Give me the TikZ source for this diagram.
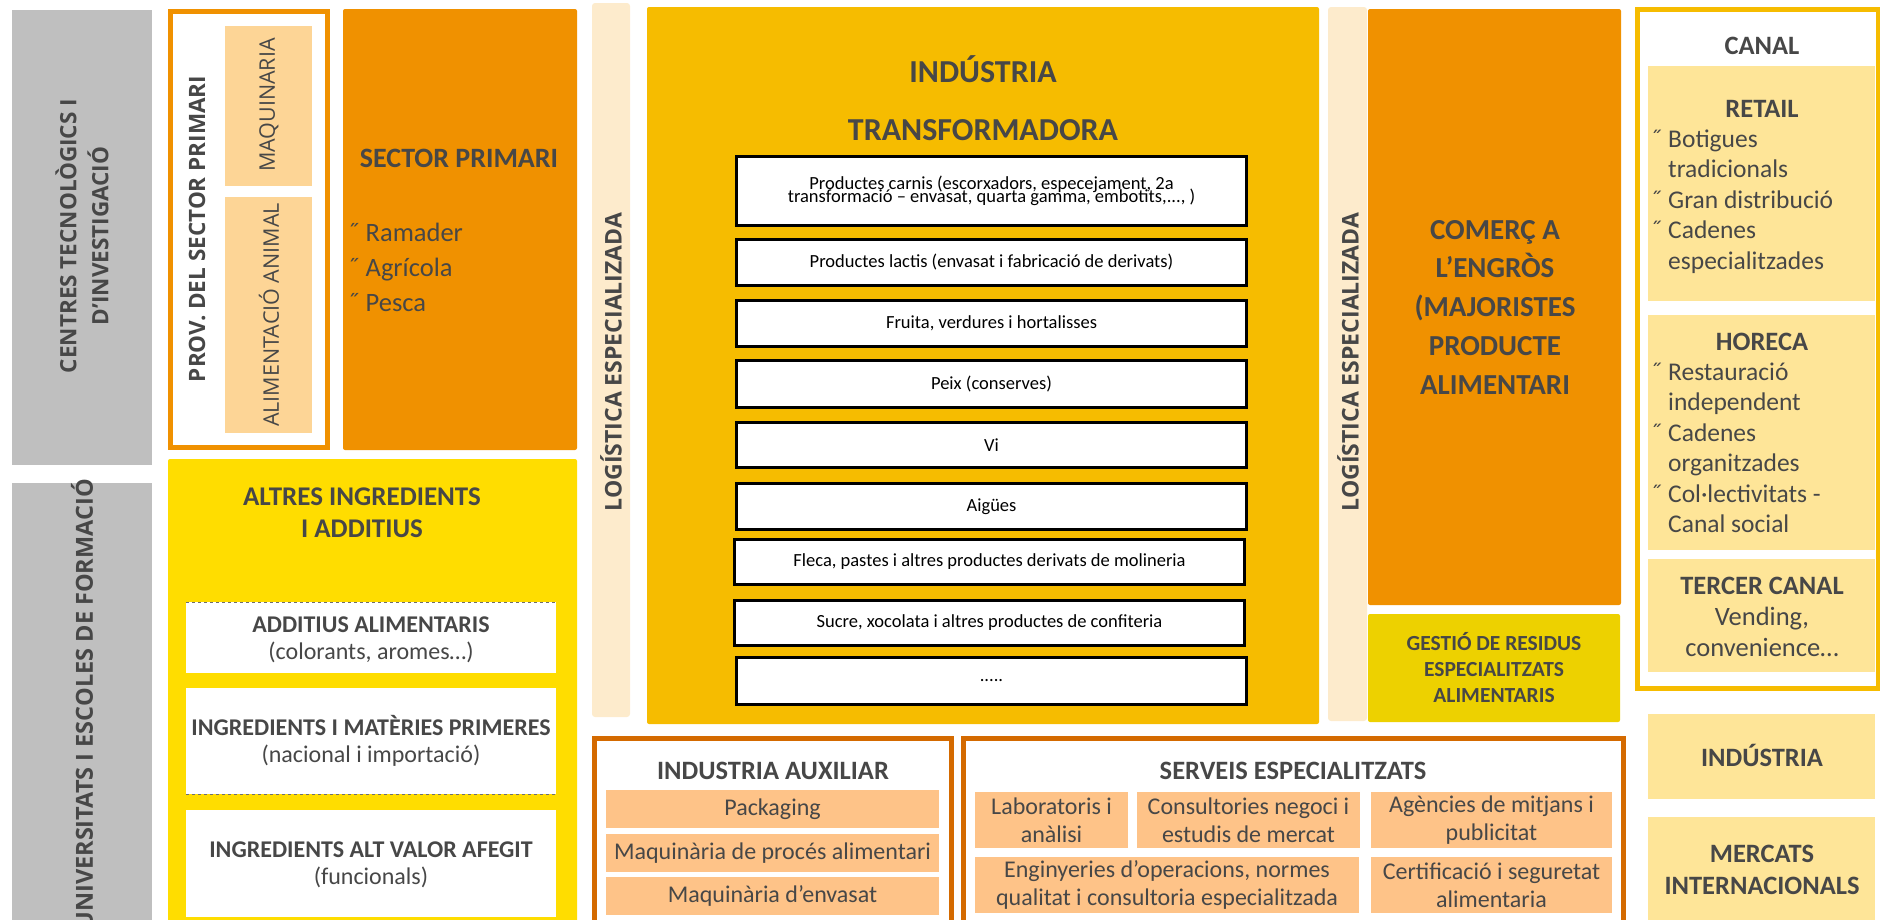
\documentclass[tikz,border=0pt]{standalone}
\usepackage{fontspec}
\usepackage{xcolor}
\setmainfont{Carlito}
\newfontfamily\opensans{Open Sans}

\definecolor{gris}{HTML}{BFBFBF}
\definecolor{grisfosc}{HTML}{6E6E6E}
\definecolor{taronja}{HTML}{F09100}
\definecolor{taronjafosc}{HTML}{D46A00}
\definecolor{preseg}{HTML}{FDD596}
\definecolor{groc}{HTML}{FFDD00}
\definecolor{crema}{HTML}{FDEBCC}
\definecolor{daurat}{HTML}{F6BC00}
\definecolor{llima}{HTML}{EDD100}
\definecolor{palla}{HTML}{FEE598}
\definecolor{albercoc}{HTML}{FEC388}
\definecolor{lletra}{HTML}{474747}

\newcommand{\vinyeta}[1][18pt]{\makebox[#1][l]{˝}}
\newcommand{\ajustat}{\lineskiplimit=-100pt\relax}

\begin{document}
\begin{tikzpicture}[x=1pt, y=-1pt,
    titol/.style={text=lletra, inner sep=0pt, align=center, anchor=base,
        font=\fontsize{26.5}{32}\selectfont\bfseries},
    vertical/.style={rotate=90, text=lletra, inner sep=0pt, align=center,
        font=\opensans\fontsize{22.5}{32}\selectfont\bfseries},
    llista/.style={text=lletra, inner sep=0pt, align=left, anchor=base west,
        font=\fontsize{25.5}{30.5}\selectfont},
    producte/.style={draw=black, line width=3pt, fill=white, inner sep=0pt,
        minimum width=510pt, minimum height=46pt, align=center,
        font=\fontsize{18.5}{13}\selectfont\ajustat},
    servei/.style={fill=albercoc, inner sep=0pt, minimum height=56pt, align=center,
        text=lletra, font=\fontsize{24}{28}\selectfont},
    auxiliar/.style={fill=albercoc, inner sep=0pt, minimum width=333pt,
        minimum height=38pt, text=lletra, font=\fontsize{24}{28}\selectfont}]
\useasboundingbox (0,0) rectangle (1880,919);
\clip (0,0) rectangle (1880,919);

% Columna de centres i universitats
\fill[gris] (12,10) rectangle (152,465);
\fill[gris] (12,483) rectangle (152,930);
\node[vertical] (centres) at (82,236) {CENTRES TECNOLÒGICS I\\D’INVESTIGACIÓ};
\node[vertical, anchor=east, font=\opensans\fontsize{23.5}{32}\selectfont\bfseries] (universitats) at (82,479) {UNIVERSITATS I ESCOLES DE FORMACIÓ};

% Proveidors del sector primari
\filldraw[fill=white, draw=taronja, line width=5pt] (170.5,11.5) rectangle (327.5,447.5);
\fill[preseg] (225,26) rectangle (312,186);
\fill[preseg] (225,197) rectangle (312,433);
\node[vertical] (prov) at (197,229) {PROV. DEL SECTOR PRIMARI};
\node[vertical, font=\opensans\fontsize{21.5}{24}\selectfont] (maquinaria) at (269,105) {MAQUINARIA};
\node[vertical, font=\opensans\fontsize{21.5}{24}\selectfont] (alimentacio) at (269,315) {ALIMENTACIÓ ANIMAL};

% Sector primari
\fill[taronja, rounded corners=2pt] (343,9) rectangle (577,450);
\node[titol, font=\fontsize{28}{32}\selectfont\bfseries] (sectorprimari) at (459,167) {SECTOR PRIMARI};
\node[llista, font=\fontsize{26.5}{35}\selectfont] (primari) at (347,311)
    {\vinyeta[18.5pt]Ramader\\\vinyeta[18.5pt]Agrícola\\\vinyeta[18.5pt]Pesca};

% Altres ingredients i additius
\fill[groc, rounded corners=2pt] (168,459) rectangle (577,930);
\fill[white] (186,602) rectangle (556,673);
\fill[white] (186,688) rectangle (556,794);
\fill[white] (186,810) rectangle (556,917);
\draw[grisfosc, dashed, line width=0.8pt] (186,602) -- (556,602);
\draw[grisfosc, dashed, line width=0.8pt] (186,794) -- (556,794);
\node[titol, font=\fontsize{27}{32}\selectfont\bfseries] (altres) at (362,537) {ALTRES INGREDIENTS\\I ADDITIUS};
\node[titol, font=\fontsize{24}{27}\selectfont\bfseries] (additius) at (371,659)
    {ADDITIUS ALIMENTARIS\\{\mdseries (colorants, aromes…)}};
\node[titol, font=\fontsize{24}{27}\selectfont\bfseries] (materies) at (371,762)
    {INGREDIENTS I MATÈRIES PRIMERES\\{\mdseries (nacional i importació)}};
\node[titol, font=\fontsize{24}{27}\selectfont\bfseries] (valor) at (371,884)
    {INGREDIENTS ALT VALOR AFEGIT\\{\mdseries (funcionals)}};

% Logistica especialitzada
\fill[crema, rounded corners=3pt] (592,3) rectangle (630,717);
\fill[crema, rounded corners=3pt] (1328,7) rectangle (1367,721);
\node[vertical, font=\opensans\fontsize{23}{32}\selectfont\bfseries] (logistica1) at (611,362) {LOGÍSTICA ESPECIALIZADA};
\node[vertical, font=\opensans\fontsize{23}{32}\selectfont\bfseries] (logistica2) at (1348,362) {LOGÍSTICA ESPECIALIZADA};

% Industria transformadora
\fill[daurat, rounded corners=2pt] (647,7) rectangle (1319,724);
\node[titol, font=\fontsize{32}{58}\selectfont\bfseries] (transformadora) at (983,140) {INDÚSTRIA\\TRANSFORMADORA};
\node[producte, minimum height=69pt] (carnis) at (991.5,191)
    {Productes carnis (escorxadors, especejament, 2a\\transformació – envasat, quarta gamma, embotits,..., )};
\node[producte] (lactis) at (991.5,262.5) {Productes lactis (envasat i fabricació de derivats)};
\node[producte] (fruita) at (991.5,323.5) {Fruita, verdures i hortalisses};
\node[producte, minimum height=47pt] (peix) at (991.5,384) {Peix (conserves)};
\node[producte, minimum height=45pt] (vi) at (991.5,445) {Vi};
\node[producte] (aigues) at (991.5,506.5) {Aigües};
\node[producte, minimum height=45pt] (fleca) at (989.5,562) {Fleca, pastes i altres productes derivats de molineria};
\node[producte, minimum height=45pt] (sucre) at (989.5,623) {Sucre, xocolata i altres productes de confiteria};
\node[producte, minimum height=47pt] (altresprod) at (991.5,681) {.....};

% Comerc a l'engros i residus
\fill[taronja, rounded corners=2pt] (1368,9) rectangle (1621,605);
\fill[llima, rounded corners=2pt] (1368,614) rectangle (1620,722);
\node[titol, font=\fontsize{29}{38.75}\selectfont\bfseries] (comerc) at (1495,394)
    {COMERÇ A\\L’ENGRÒS\\(MAJORISTES\\PRODUCTE\\ALIMENTARI};
\node[titol, font=\fontsize{21.5}{26}\selectfont\bfseries] (residus) at (1494,702)
    {GESTIÓ DE RESIDUS\\ESPECIALITZATS\\ALIMENTARIS};

% Canal
\filldraw[fill=white, draw=daurat, line width=5pt] (1637.5,9.5) rectangle (1878.5,688.5);
\fill[palla] (1648,66) rectangle (1875,301);
\fill[palla] (1648,315) rectangle (1875,550);
\fill[palla] (1648,559) rectangle (1875,672);
\fill[palla] (1648,714) rectangle (1875,799);
\fill[palla] (1648,817) rectangle (1875,930);
\node[titol] (canal) at (1762,54) {CANAL};
\node[titol] (retail) at (1762,117) {RETAIL};
\node[llista] (retailllista) at (1650,269)
    {\vinyeta Botigues\\\hspace*{18pt}tradicionals\\\vinyeta Gran distribució\\\vinyeta Cadenes\\\hspace*{18pt}especialitzades};
\node[titol] (horeca) at (1762,350) {HORECA};
\node[llista] (horecallista) at (1650,532.5)
    {\vinyeta Restauració\\\hspace*{18pt}independent\\\vinyeta Cadenes\\\hspace*{18pt}organitzades\\\vinyeta Col·lectivitats -\\\hspace*{18pt}Canal social};
\node[titol, font=\fontsize{26.5}{31}\selectfont\bfseries] (tercer) at (1762,656)
    {TERCER CANAL\\{\mdseries Vending,}\\{\mdseries convenience…}};
\node[titol] (industriacanal) at (1762,766) {INDÚSTRIA};
\node[titol] (mercats) at (1762,894) {MERCATS\\INTERNACIONALS};

% Industria auxiliar
\filldraw[fill=white, draw=taronjafosc, line width=5pt] (594.5,738.5) rectangle (951.5,935);
\node[titol] (aux) at (773,779) {INDUSTRIA AUXILIAR};
\node[auxiliar] (packaging) at (772.5,809) {Packaging};
\node[auxiliar] (proces) at (772.5,853) {Maquinària de procés alimentari};
\node[auxiliar] (envasat) at (772.5,896) {Maquinària d’envasat};

% Serveis especialitzats
\filldraw[fill=white, draw=taronjafosc, line width=5pt] (963.5,738.5) rectangle (1623.5,935);
\node[titol] (serveis) at (1293,779) {SERVEIS ESPECIALITZATS};
\node[servei, minimum width=153pt] (laboratoris) at (1051.5,820) {Laboratoris i\\anàlisi};
\node[servei, minimum width=223pt] (consultories) at (1248.5,820) {Consultories negoci i\\estudis de mercat};
\node[servei, minimum width=241pt] (agencies) at (1491.5,820) {Agències de mitjans i\\publicitat};
\node[servei, minimum width=384pt] (enginyeries) at (1167,885) {Enginyeries d’operacions, normes\\qualitat i consultoria especialitzada};
\node[servei, minimum width=241pt] (certificacio) at (1491.5,885) {Certificació i seguretat\\alimentaria};

\end{tikzpicture}
\end{document}
